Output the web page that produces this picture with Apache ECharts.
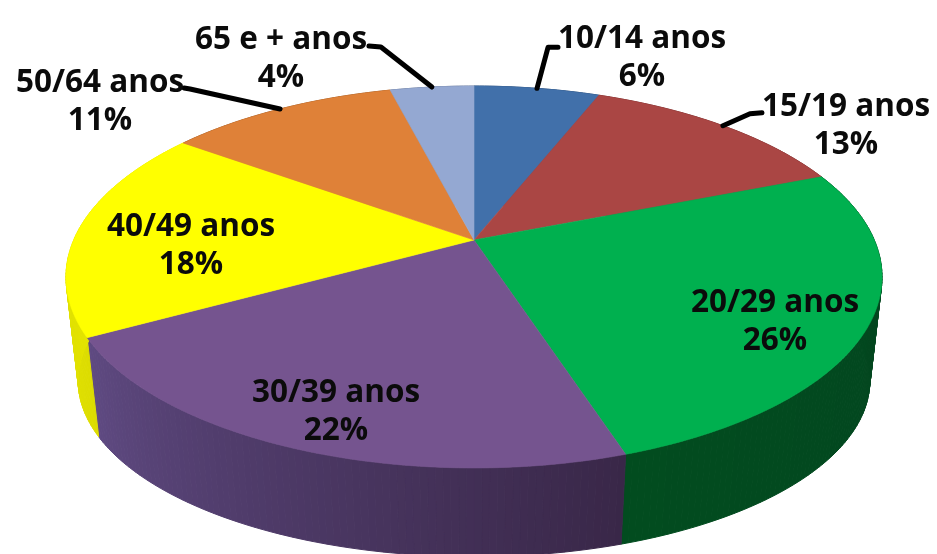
<!DOCTYPE html>
<html>
<head>
<meta charset="utf-8">
<style>
html,body{margin:0;padding:0;background:#fff;}
#main{width:937px;height:554px;}
</style>
<script src="https://cdn.jsdelivr.net/npm/echarts@6/dist/echarts.min.js"></script>
</head>
<body>
<div id="main"></div>
<script>
// data
var categories=['10/14 anos','15/19 anos','20/29 anos','30/39 anos','40/49 anos','50/64 anos','65 e + anos'];
var shares=[6,13,26,22,18,11,4];

// colours of the top face and of the side wall (first and last edge of the slice)
var topColors=['#4170aa','#aa4644','#00b04f','#75548f','#ffff00','#df8138','#94a8d2'];
var wallColors=[
    ['#2c4d76','#2c4d76'],['#762f2e','#762f2e'],['#03431f','#024c1f'],
    ['#392748','#5f4a82'],['#dcdc00','#eded00'],['#9a5926','#9a5926'],['#677591','#677591']
];

// label centre for each slice, and leader bends relative to the rim point
var labelSpots=[[642,58],[846,126],[775,322],[336,412],[191,246],[100,102],[281,59]];
var leaders=[
    [[11,-41],[21,-41]],
    [[27,-12],[39,-13]],
    null,null,null,
    [[-90,-20],[-96,-21]],
    [[-51,-40],[-63,-41]]
];

// pie geometry, a tilted disc seen in perspective
var cx=474,cy=240,radX=400.3,radY=183.8,persp=0.1937;
var wallDrop=107,wallScaleX=0.97,wallScaleY=0.92;

var total=shares.reduce(function(a,b){return a+b;},0);
var starts=[];
shares.reduce(function(sum,v,i){starts[i]=sum;return sum+v;},0);

function rim(pct,drop,scaleX,scaleY){
    var t=pct/total*Math.PI*2;
    var x=Math.sin(t),y=-Math.cos(t),w=1-persp*y;
    return [cx+scaleX*radX*x/w,cy+drop+scaleY*radY*y/w];
}
function arc(from,to){
    var pts=[],n=Math.max(2,Math.ceil((to-from)*4));
    for(var i=0;i<=n;i++){
        pts.push(rim(from+(to-from)*i/n,0,1,1));
    }
    return pts;
}

// the wall is a run of thin strips, so its outline also follows the sides of the disc
function renderWall(params,api){
    var i=params.dataIndex,v=api.value(0),c=wallColors[i],kids=[];
    var n=Math.ceil(v*4);
    for(var k=0;k<n;k++){
        var a=starts[i]+v*k/n,b=starts[i]+v*(k+1)/n;
        var col=echarts.color.lerp((k+0.5)/n,c);
        kids.push({
            type:'polygon',
            shape:{points:[rim(a,0,1,1),rim(b,0,1,1),rim(b,wallDrop,wallScaleX,wallScaleY),rim(a,wallDrop,wallScaleX,wallScaleY)]},
            style:{fill:col,stroke:col,lineWidth:1}
        });
    }
    return {type:'group',children:kids};
}
function renderTop(params,api){
    var i=params.dataIndex,v=api.value(0);
    var pts=[[cx,cy]].concat(arc(starts[i],starts[i]+v));
    return {
        type:'polygon',
        shape:{points:pts},
        style:{fill:topColors[i],stroke:topColors[i],lineWidth:0.6}
    };
}
function renderLabel(params,api){
    var i=params.dataIndex,v=api.value(0),kids=[];
    if(leaders[i]){
        var p=rim(starts[i]+v/2,0,1,1);
        var line=[p].concat(leaders[i].map(function(d){return [p[0]+d[0],p[1]+d[1]];}));
        kids.push({
            type:'polyline',
            shape:{points:line},
            style:{fill:null,stroke:'#000',lineWidth:5,lineCap:'round',lineJoin:'round'}
        });
    }
    kids.push({
        type:'text',
        x:labelSpots[i][0],
        y:labelSpots[i][1],
        style:{
            text:categories[i]+'\n'+v+'%',
            font:'bold 31.5px "Open Sans"',
            lineHeight:38,
            align:'center',
            verticalAlign:'middle',
            fill:'#0b0b0b'
        }
    });
    return {type:'group',children:kids};
}

var pieChart=echarts.init(document.getElementById('main'));
pieChart.setOption({
    animation:false,
    tooltip:{show:false},
    series:[
        {type:'custom',coordinateSystem:'none',renderItem:renderWall,data:shares,z:1,silent:true},
        {type:'custom',coordinateSystem:'none',renderItem:renderTop,data:shares,z:2,silent:true},
        {type:'custom',coordinateSystem:'none',renderItem:renderLabel,data:shares,z:3,silent:true}
    ]
});
</script>
</body>
</html>
